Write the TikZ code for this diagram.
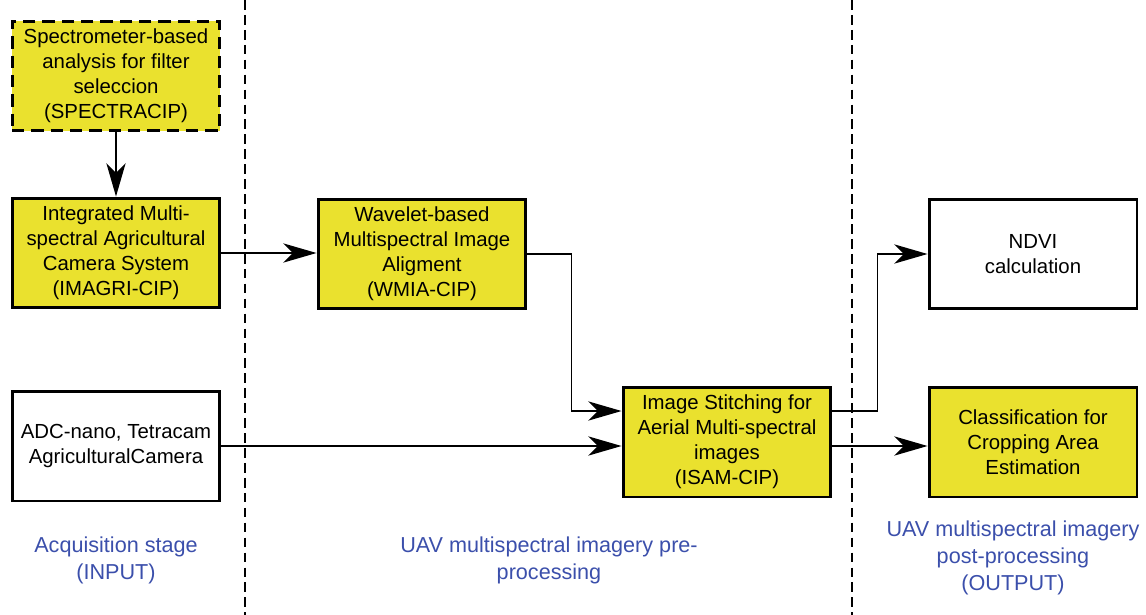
\documentclass[tikz,border=0pt]{standalone}
\usepackage{fontspec}
\setmainfont{Liberation Sans}
\usetikzlibrary{arrows.meta,positioning,calc}
\definecolor{boxyellow}{RGB}{234,225,46}
\definecolor{stageblue}{RGB}{59,79,171}

\begin{document}
\begin{tikzpicture}[x=0.02cm,y=-0.02cm,
  every node/.style={font=\fontsize{11.6}{14.2}\selectfont,align=center},
  block/.style={draw,line width=1.7pt,minimum width=4.16cm,minimum height=2.2cm,inner sep=2pt},
  yblock/.style={block,fill=boxyellow},
  conn/.style={line width=0.9pt,-{Stealth[length=19pt,width=11pt,inset=5.5pt]}},
  stage/.style={text=stageblue,font=\fontsize{12.3}{15.3}\selectfont}]
  \useasboundingbox (0,0) rectangle (1146,615);
  \foreach \x in {245,852} {
    \draw[line width=1pt,dash pattern=on 5.5pt off 3pt] (\x,0) -- (\x,615);
  }
  \node[yblock,dash pattern=on 7pt off 4pt] (spectra) at (116,76) {Spectrometer-based\\analysis for filter\\seleccion\\(SPECTRACIP)};
  \node[yblock] (imagri) at (116,253) {Integrated Multi-\\spectral Agricultural\\Camera System\\(IMAGRI-CIP)};
  \node[block] (adc) at (116,446) {ADC-nano, Tetracam\\AgriculturalCamera};
  \node[yblock] (wmia) at (422,254) {Wavelet-based\\Multispectral Image\\Aligment\\(WMIA-CIP)};
  \node[yblock] (isam) at (727,442) {Image Stitching for\\Aerial Multi-spectral\\images\\(ISAM-CIP)};
  \node[block] (ndvi) at (1033,254) {NDVI\\calculation};
  \node[yblock] (classif) at (1033,442) {Classification for\\Cropping Area\\Estimation};
  \coordinate (isamin) at ([yshift=0.62cm]isam.west);
  \coordinate (isamout) at ([yshift=0.62cm]isam.east);
  \draw[conn] (spectra) -- (imagri);
  \draw[conn] (imagri.east) -- (imagri.east -| wmia.west);
  \draw[conn] (wmia.east) -- ++(44,0) |- (isamin);
  \draw[conn] (adc.east) -- (adc.east -| isam.west);
  \draw[conn] (isamout) -- ++(45,0) |- (ndvi.west);
  \draw[conn] (isam.east |- adc.east) -- (classif.west |- adc.east);
  \node[stage] (input) at (116,560) {Acquisition stage\\(INPUT)};
  \node[stage] (preproc) at (549,560) {UAV multispectral imagery pre-\\processing};
  \node[stage] (output) at (1013,558) {UAV multispectral imagery\\post-processing\\(OUTPUT)};
\end{tikzpicture}
\end{document}
